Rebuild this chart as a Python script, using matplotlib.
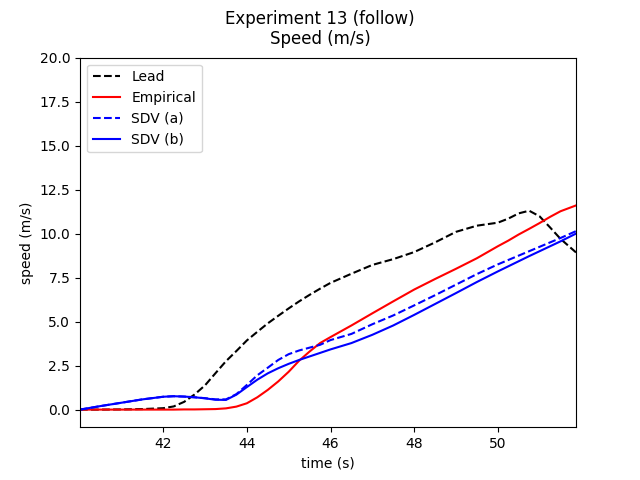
import matplotlib
matplotlib.use("Agg")
import matplotlib.pyplot as plt

# time stamps (s)
time_s = [40.01, 40.5, 41.0, 41.5, 42.0, 42.25, 42.5, 42.75, 43.0, 43.25,
          43.5, 43.75, 44.0, 44.25, 44.5, 44.75, 45.0, 45.25, 45.5, 45.75,
          46.0, 46.5, 47.0, 47.5, 48.0, 48.5, 49.0, 49.5, 50.0, 50.25,
          50.5, 50.75, 51.0, 51.25, 51.5, 51.87]

lead = [0.0, 0.0, 0.01, 0.03, 0.08, 0.18, 0.44, 0.86, 1.38, 2.07,
        2.75, 3.33, 3.93, 4.42, 4.9, 5.33, 5.75, 6.15, 6.52, 6.87,
        7.2, 7.72, 8.22, 8.55, 8.95, 9.5, 10.1, 10.45, 10.62, 10.85,
        11.15, 11.3, 10.98, 10.35, 9.7, 8.93]

empirical = [0.0, 0.0, 0.0, 0.0, 0.0, 0.0, 0.01, 0.01, 0.02, 0.03,
             0.07, 0.17, 0.36, 0.7, 1.12, 1.6, 2.15, 2.78, 3.3, 3.78,
             4.12, 4.78, 5.47, 6.15, 6.82, 7.42, 8.0, 8.6, 9.28, 9.6,
             9.95, 10.27, 10.6, 10.95, 11.27, 11.6]

sdv_a = [0.0, 0.2, 0.39, 0.58, 0.73, 0.76, 0.74, 0.7, 0.65, 0.58,
         0.58, 0.88, 1.4, 1.95, 2.38, 2.82, 3.15, 3.36, 3.52, 3.68,
         3.95, 4.3, 4.85, 5.35, 5.92, 6.5, 7.1, 7.7, 8.25, 8.5,
         8.75, 9.0, 9.25, 9.5, 9.75, 10.14]

sdv_b = [0.0, 0.2, 0.39, 0.58, 0.73, 0.76, 0.74, 0.7, 0.64, 0.56,
         0.55, 0.85, 1.28, 1.7, 2.06, 2.35, 2.6, 2.82, 3.02, 3.22,
         3.42, 3.78, 4.25, 4.78, 5.38, 6.0, 6.62, 7.25, 7.85, 8.14,
         8.43, 8.72, 9.0, 9.28, 9.56, 10.0]


def main():
    fig, ax = plt.subplots(figsize=(6.4, 4.8), dpi=100)
    ax.plot(time_s, lead, "k--", label="Lead")
    ax.plot(time_s, empirical, "r-", label="Empirical")
    ax.plot(time_s, sdv_a, "b--", label="SDV (a)")
    ax.plot(time_s, sdv_b, "b-", label="SDV (b)")
    ax.set_xlim(time_s[0], time_s[-1])
    ax.set_ylim(-1, 20)
    ax.set_xlabel("time (s)")
    ax.set_ylabel("speed (m/s)")
    ax.legend(loc="upper left")
    fig.suptitle("Experiment 13 (follow)\nSpeed (m/s)")
    fig.savefig("out.png", dpi=100)


if __name__ == "__main__":
    main()
